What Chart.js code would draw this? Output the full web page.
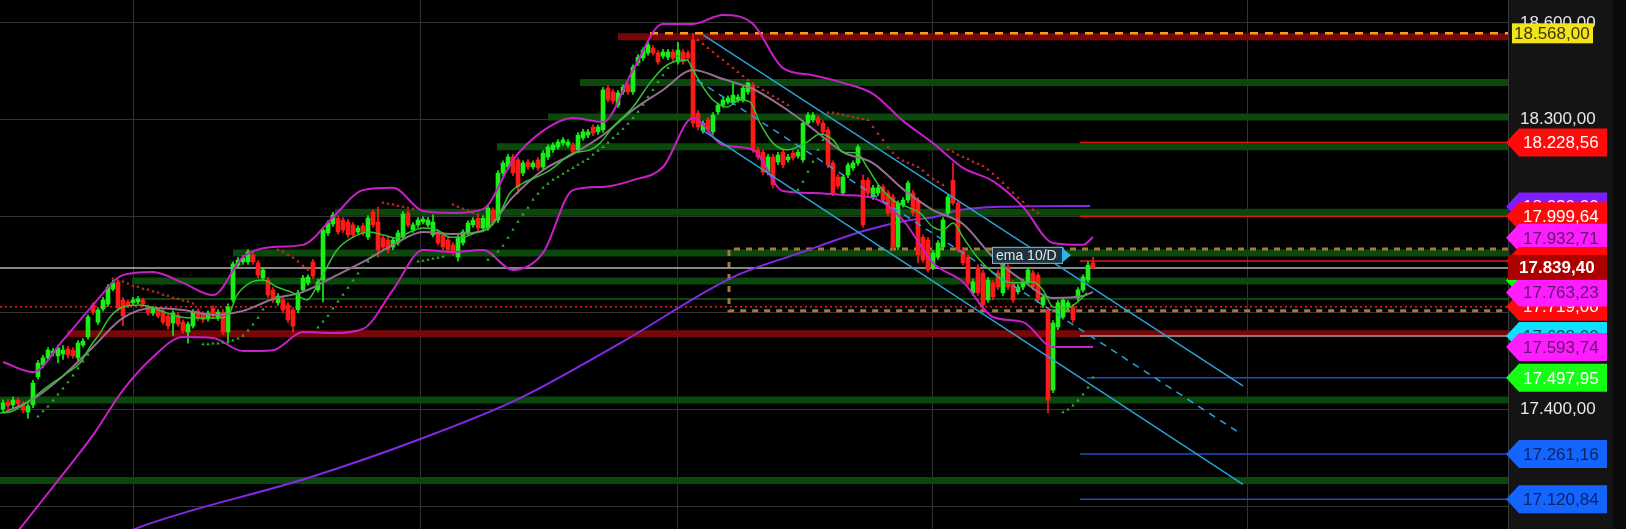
<!DOCTYPE html>
<html>
<head>
<meta charset="utf-8">
<script src="https://cdn.jsdelivr.net/npm/chart.js@4.4.1/dist/chart.umd.min.js"></script>
<style>
  html, body { margin: 0; padding: 0; background: #000; overflow: hidden; }
  canvas { display: block; }
</style>
</head>
<body>
<canvas id="chart" width="1626" height="529"></canvas>
<script>
// ---- candles (one per bar index) ----
const open = [
  17401,17423,17414,17429,17417,17392,17414,17501,17538,17560,
  17575,17566,17572,17588,17584,17560,17600,17625,17724,17671,
  17712,17727,17774,17796,17740,17734,17731,17734,17740,17718,
  17699,17709,17706,17690,17668,17693,17671,17640,17659,17706,
  17696,17681,17715,17684,17702,17640,17740,17848,17858,17858,
  17880,17855,17808,17802,17771,17731,17740,17724,17709,17709,
  17771,17793,17858,17771,17802,17948,17976,17994,17988,17982,
  17973,17951,17970,17935,18013,17982,17932,17926,17904,17917,
  17935,18010,17957,17973,17982,17973,17942,17951,17942,17926,
  17911,17873,17917,17948,17973,17994,17963,17963,18019,17988,
  18134,18153,18184,18175,18134,18168,18153,18175,18153,18184,
  18206,18215,18227,18221,18221,18206,18243,18252,18277,18262,
  18268,18398,18386,18345,18386,18407,18386,18476,18491,18507,
  18522,18507,18497,18494,18510,18479,18510,18507,18547,18320,
  18265,18299,18262,18324,18345,18355,18355,18361,18361,18386,
  18407,18206,18199,18137,18184,18168,18199,18175,18196,18187,
  18175,18289,18299,18305,18289,18268,18165,18122,18072,18128,
  18150,18165,18112,18112,18060,18072,18091,18072,18060,17904,
  18035,18050,18072,18050,17935,17926,17842,17873,17904,18010,
  18112,18041,17895,17873,17762,17842,17824,17740,17793,17824,
  17762,17842,17793,17765,17780,17793,17824,17817,17724,17709,
  17460,17656,17687,17718,17718,17746,17771,17802,17855
];
const close = [
  17420,17411,17429,17417,17398,17411,17482,17544,17560,17584,
  17581,17591,17584,17569,17566,17606,17612,17687,17702,17709,
  17740,17780,17793,17715,17690,17724,17740,17743,17727,17699,
  17712,17690,17671,17659,17699,17665,17644,17665,17702,17684,
  17678,17699,17690,17702,17640,17718,17852,17864,17870,17889,
  17858,17817,17833,17755,17740,17752,17709,17678,17659,17762,
  17808,17811,17814,17796,17957,17979,18004,17951,17957,17942,
  17942,17963,17948,17994,17973,17895,17904,17895,17926,17948,
  18007,17973,17973,17988,17991,17988,17982,17917,17904,17895,
  17886,17935,17951,17979,17988,17963,17994,18025,17979,18134,
  18165,18184,18134,18091,18165,18153,18165,18150,18196,18215,
  18221,18230,18237,18230,18199,18252,18262,18262,18258,18277,
  18392,18361,18358,18383,18401,18386,18463,18494,18516,18532,
  18507,18479,18510,18510,18491,18516,18479,18491,18289,18277,
  18289,18268,18314,18345,18361,18367,18376,18370,18398,18414,
  18206,18184,18137,18184,18097,18190,18159,18184,18181,18199,
  18289,18314,18314,18289,18262,18159,18072,18094,18122,18159,
  18165,18215,17973,18072,18088,18088,18050,18010,17904,18041,
  18050,18103,18010,17880,17864,17833,17886,17917,17988,18060,
  18041,17895,17855,17793,17796,17762,17724,17802,17749,17780,
  17855,17780,17740,17780,17796,17833,17780,17740,17749,17429,
  17668,17731,17740,17731,17678,17771,17811,17848,17839
];
const high = [
  17430,17432,17438,17436,17425,17418,17490,17552,17568,17592,
  17590,17600,17598,17596,17592,17614,17620,17694,17732,17716,
  17748,17788,17802,17802,17748,17740,17748,17750,17746,17724,
  17720,17716,17712,17696,17706,17700,17678,17672,17710,17712,
  17704,17706,17722,17710,17710,17728,17858,17872,17878,17896,
  17888,17862,17840,17810,17778,17760,17748,17732,17716,17770,
  17816,17818,17866,17804,17964,17986,18012,18002,17996,17990,
  17980,17970,17978,18002,18020,18028,17940,17934,17934,17956,
  18014,18018,17980,17996,17998,17996,18004,17958,17950,17934,
  17918,17942,17958,17986,17996,18002,18002,18032,18026,18142,
  18172,18192,18192,18182,18172,18176,18172,18182,18204,18222,
  18228,18238,18244,18238,18228,18260,18270,18270,18284,18284,
  18400,18406,18394,18390,18408,18414,18470,18502,18524,18540,
  18530,18514,18518,18518,18518,18540,18518,18514,18568,18328,
  18296,18306,18322,18352,18368,18374,18414,18378,18406,18416,
  18414,18214,18206,18192,18192,18198,18206,18192,18204,18206,
  18296,18322,18322,18312,18296,18276,18172,18130,18130,18166,
  18172,18222,18128,18120,18096,18096,18098,18080,18068,18048,
  18058,18110,18080,18058,17942,17934,17894,17924,17996,18068,
  18165,18048,17902,17880,17804,17850,17832,17810,17800,17832,
  17862,17850,17800,17788,17804,17840,17832,17824,17756,17716,
  17676,17738,17748,17738,17726,17778,17818,17858,17873
];
const low = [
  17392,17402,17405,17408,17390,17373,17405,17494,17530,17552,
  17566,17545,17555,17560,17558,17550,17594,17618,17695,17664,
  17705,17720,17768,17706,17660,17716,17724,17728,17720,17692,
  17692,17684,17664,17650,17630,17658,17636,17606,17652,17676,
  17670,17674,17682,17676,17632,17606,17732,17840,17850,17850,
  17850,17808,17800,17746,17732,17724,17700,17670,17640,17700,
  17764,17786,17806,17764,17734,17940,17968,17944,17950,17934,
  17934,17944,17940,17928,17966,17873,17896,17886,17896,17910,
  17928,17966,17950,17966,17976,17966,17936,17910,17896,17886,
  17878,17860,17910,17940,17966,17956,17956,17956,17972,17980,
  18126,18146,18126,18070,18126,18146,18146,18142,18146,18176,
  18198,18208,18220,18214,18192,18198,18236,18244,18250,18254,
  18260,18354,18350,18338,18378,18378,18378,18468,18484,18500,
  18500,18472,18490,18486,18484,18472,18472,18484,18277,18268,
  18258,18260,18254,18316,18338,18348,18348,18354,18354,18378,
  18198,18176,18128,18128,18088,18160,18150,18168,18174,18180,
  18168,18282,18292,18282,18254,18150,18064,18086,18064,18120,
  18142,18158,17966,18064,18052,18064,18042,18002,17896,17896,
  18028,18042,18002,17855,17856,17826,17834,17866,17896,18002,
  18034,17888,17848,17786,17754,17754,17709,17732,17740,17772,
  17754,17772,17732,17758,17772,17786,17772,17732,17716,17389,
  17452,17648,17680,17710,17670,17738,17764,17794,17836
];

// ---- parabolic SAR runs: first bar index of each run, then its values ----
const sarStart = [7, 22, 40, 55, 63, 76, 83, 90, 97, 139, 159, 165, 212];
const sarRuns = [
  [17378,17394,17409,17428,17446,17465,17484,17505,17527,17549,17570],
  [17806,17800,17797,17791,17784,17781,17775,17772,17766,17763,17756,17753,17747,17744,17738,17735,17729],
  [17602,17602,17605,17605,17608,17611,17614,17620,17629,17645,17664,17685,17710],
  [17896,17890,17880,17871,17859,17846,17834],
  [17654,17673,17691,17713,17735,17756,17778,17800,17822,17840,17859,17877],
  [18042,18039,18036,18032,18029,18026,18023],
  [17859,17862,17865,17868,17871,17874],
  [18036,18029,18023,18017,18011,18005],
  [17865,17877,17890,17908,17933,17958,17983,18005,18026,18051,18070,18088,18101,18113,18122,18132,18141,18150,18160,18169,
   18178,18191,18203,18215,18228,18243,18256,18271,18287,18305,18324,18346,18370,18392,18417,18438,18460,18479,18497],
  [18547,18535,18522,18510,18497,18485,18473,18460,18448,18435,18423,18411,18401,18392,18383,18373,18364,18355,18345],
  [18082,18107,18138,18169,18206,18237],
  [18321,18321,18318,18315,18311,18308,18305,18302,18299,18277,18256,18237,18215,18197,18181,18172,18166,18160,18153,18141,
   18128,18116,18107,18097,18206,18200,18191,18184,18178,18169,18163,18156,18144,18132,18119,18104,18088,18073,18057,18045,
   18032,18020,18011],
  [17391,17400,17412,17428,17446,17468,17499]
];

// ---- Bollinger bands (20) read at every 6th bar ----
const bandIdx = [0,6,12,18,24,30,36,42,48,54,60,66,72,78,84,90,96,102,108,114,
                 120,126,132,138,144,150,156,162,168,174,180,186,192,198,204,210,216,218];
const bbUpper = [17547,17516,17615,17724,17817,17827,17793,17755,17873,17904,17911,17997,18081,18088,18016,18010,18022,18175,18265,18305,
                 18293,18454,18597,18597,18625,18597,18460,18438,18414,18380,18296,18227,18150,18109,18029,17917,17911,17935];
const bbMiddle = [17389,17432,17504,17594,17684,17715,17709,17693,17706,17743,17765,17811,17858,17911,17951,17945,17954,18060,18143,18193,
                  18252,18330,18392,18454,18426,18395,18339,18271,18199,18165,18084,18019,17976,17873,17799,17746,17752,17765];
const bbLower = [16963,17081,17199,17320,17460,17563,17625,17622,17581,17584,17640,17637,17650,17771,17895,17889,17895,17833,17886,18081,
                 18091,18112,18153,18305,18221,18206,18078,18072,18066,18057,17988,17855,17796,17687,17671,17594,17594,17594];

// ---- EMA 10 ----
const emaIdx = [-0.6,1.4,5.4,8.8,12.8,15.4,17.4,19.4,21.4,24,27.4,30,32.8,35.4,38,42,44.8,46.8,49.4,52,
                54.8,58,60.8,63.4,66.8,70,73.4,76,78.8,81.4,84,86.8,89.4,92,94.8,97.4,99.4,101.4,104,106.8,
                109.4,114,117.4,119.4,122,126,129.4,132,134,136.8,138,140,142,144.8,147.4,149.4,151.4,154,156.8,160.8,
                163.4,166,168,170.8,172.8,175.4,178,180.8,183.4,186,188,190,192,194.8,198,200.8,203.4,206,208,210,
                212.8,215.4,216.8];
const emaVal = [17389,17392,17429,17470,17513,17544,17594,17637,17687,17718,17724,17715,17699,17687,17684,17684,17687,17755,17793,17802,
                17780,17762,17740,17802,17895,17935,17951,17942,17932,17951,17963,17957,17935,17935,17951,17966,18010,18072,18103,18122,
                18143,18196,18206,18227,18277,18339,18414,18460,18479,18485,18454,18401,18361,18339,18361,18355,18289,18227,18206,18230,
                18255,18237,18199,18196,18153,18091,18050,18029,18010,17966,17957,17979,17935,17873,17824,17796,17793,17796,17771,17718,
                17715,17740,17762];

// ---- long moving average (violet) ----
const maIdx = [19.4,26.4,61.6,82.4,103,123.8,146,159.4,172.8,181.4,186,191.4,199.4,217.4];
const maVal = [16979,17029,17190,17302,17432,17609,17811,17886,17957,17988,17997,18019,18029,18032];

// ---- descending channel: [startBar, startValue, endBar, endValue] ----
const chanUpper = [140, 18563, 248, 17473];
const chanMiddle = [138.8, 18423, 247, 17330];
const chanLower = [139.8, 18268, 248, 17167];

// ---- support / resistance zones ----
const zoneLevels = [18415, 18308, 18216, 18012, 17886, 17799, 17429, 17179];
const zoneFrom = [115.4, 109, 98.8, 66.4, 46, 25.8, -0.6, -0.6];
const redZoneLevels = [18557, 17635];
const redZoneFrom = [123, 12.8];
const thinZoneLevel = 17743, thinZoneFrom = 25.8;
const boxTop = 17898, boxBottom = 17706, boxFrom = 145.2;
const highMark = 18568, highMarkFrom = 129.4;
const pivotLevel = 17719;
const lastPrice = 17839.40;
const levelLines = [18228.56, 17999.64, 17861, 17628, 17497.95, 17261.16, 17120.84];
const levelFrom = [215.4, 215.4, 215.4, 215.4, 216.8, 215.4, 215.4];

// ---- price tags on the axis (drawn in this order) ----
const tagValues = [18030, 17999.64, 17932.71, 17861, 17800, 17628, 17719.00, 17763.23, 17593.74, 17497.95, 17261.16, 17120.84, 18228.56];
const tagKinds = ['violet','red','magenta','red','green','cyan','red','magenta','magenta','green','blue','blue','red'];

const dayBreaks = [26, 83.4, 135, 186, 249];
const X_MIN = -0.6, X_MAX = 301;
const Y_MIN = 17028.6, Y_MAX = 18671.4;

const TAG_STYLE = {
  red:     { bg: '#ff0a0a', ink: '#ffffff' },
  magenta: { bg: '#ff1cff', ink: '#5a1a6c' },
  violet:  { bg: '#7f1cff', ink: '#ffffff' },
  green:   { bg: '#14ff14', ink: '#ffffff' },
  cyan:    { bg: '#10e0ff', ink: '#0a3a4a' },
  blue:    { bg: '#1464ff', ink: '#0c2462' }
};
const UP = '#18f018', DOWN = '#ff1a1a';
const ZONE_GREEN = '#0b480b', ZONE_RED = '#780808';

function fmt(v) {
  const parts = v.toFixed(2).split('.');
  return parts[0].replace(/\B(?=(\d{3})+(?!\d))/g, '.') + ',' + parts[1];
}

function seg(x1, y1, x2, y2) { return [{ x: x1, y: y1 }, { x: x2, y: y2 }]; }
function lineDs(points, color, width, order, extra) {
  return Object.assign({
    type: 'line', data: points, borderColor: color, borderWidth: width,
    pointRadius: 0, tension: 0, fill: false, order: order
  }, extra || {});
}
function pairs(xs, ys) { return xs.map((x, i) => ({ x: x, y: ys[i] })); }

const candleColors = close.map((c, i) => c >= open[i] ? UP : DOWN);

const sarPoints = [];
sarRuns.forEach((run, r) => run.forEach((v, k) => sarPoints.push({ x: sarStart[r] + k, y: v })));
const sarColors = sarPoints.map(p => p.y > close[p.x] ? '#c42a2a' : '#34a834');

const datasets = [];
zoneLevels.forEach((lv, i) => datasets.push(lineDs(seg(zoneFrom[i], lv, X_MAX, lv), ZONE_GREEN, 7, 30)));
redZoneLevels.forEach((lv, i) => datasets.push(lineDs(seg(redZoneFrom[i], lv, X_MAX, lv), ZONE_RED, 7, 30)));
datasets.push(lineDs(seg(thinZoneFrom, thinZoneLevel, X_MAX, thinZoneLevel), ZONE_GREEN, 2, 29));
datasets.push(lineDs([
  { x: X_MAX, y: boxTop }, { x: boxFrom, y: boxTop }, { x: boxFrom, y: boxBottom }, { x: X_MAX, y: boxBottom }
], '#a47a3c', 3, 28, { borderDash: [6, 6] }));
datasets.push(lineDs(seg(highMarkFrom, highMark, X_MAX, highMark), '#ff9c10', 2.5, 27, { borderDash: [8, 7] }));
datasets.push(lineDs(seg(X_MIN, pivotLevel, X_MAX, pivotLevel), '#e02424', 1.5, 27, { borderDash: [2, 3] }));
datasets.push(lineDs(seg(X_MIN, lastPrice, X_MAX, lastPrice), '#b4b4b4', 1.5, 27));
const levelColors = ['#e01818', '#e01818', '#e01818', '#9a9a9a', '#1f4fc0', '#1f4fc0', '#1f4fc0'];
levelLines.forEach((lv, i) => datasets.push(lineDs(seg(levelFrom[i], lv, X_MAX, lv), levelColors[i], 1.5, 26)));

datasets.push(lineDs(pairs(maIdx, maVal), '#8429e6', 2, 24, { cubicInterpolationMode: 'monotone' }));

datasets.push({
  type: 'bar', data: low.map((l, i) => ({ x: i, y: [l, high[i]] })),
  backgroundColor: candleColors, barThickness: 1, grouped: false, order: 20
});
datasets.push({
  type: 'bar', data: open.map((o, i) => ({ x: i, y: [o, close[i]] })),
  backgroundColor: candleColors, barThickness: 4, minBarLength: 1, grouped: false, order: 19
});

datasets.push(lineDs(pairs(bandIdx, bbUpper), '#c81fc8', 2, 10, { cubicInterpolationMode: 'monotone' }));
datasets.push(lineDs(pairs(bandIdx, bbLower), '#c81fc8', 2, 10, { cubicInterpolationMode: 'monotone' }));
datasets.push(lineDs(pairs(bandIdx, bbMiddle), '#93708f', 2, 10, { cubicInterpolationMode: 'monotone' }));
datasets.push(lineDs(pairs(emaIdx, emaVal), '#2fc42f', 1.5, 9, { cubicInterpolationMode: 'monotone' }));

datasets.push({
  type: 'line', data: sarPoints, showLine: false, pointStyle: 'triangle', pointRadius: 2,
  pointBackgroundColor: sarColors, pointBorderWidth: 0, order: 8
});

[chanUpper, chanLower].forEach(c => datasets.push(lineDs(seg(c[0], c[1], c[2], c[3]), '#2aa0d6', 1.5, 7)));
datasets.push(lineDs(seg(chanMiddle[0], chanMiddle[1], chanMiddle[2], chanMiddle[3]), '#2aa0d6', 1.5, 7, { borderDash: [7, 6] }));

const FONT = '"Liberation Sans", Arial, sans-serif';

function drawTag(ctx, right, y, style, text, h) {
  const tip = right - 2, body = right + 11, end = right + 99;
  ctx.fillStyle = style.bg;
  ctx.beginPath();
  ctx.moveTo(tip, y);
  ctx.lineTo(body, y - h / 2);
  ctx.lineTo(end, y - h / 2);
  ctx.lineTo(end, y + h / 2);
  ctx.lineTo(body, y + h / 2);
  ctx.closePath();
  ctx.fill();
  ctx.fillStyle = style.ink;
  ctx.font = '17px ' + FONT;
  ctx.textAlign = 'left';
  ctx.textBaseline = 'middle';
  ctx.fillText(text, right + 15, y + 1);
}

const overlay = {
  id: 'overlay',
  beforeDraw(chart) {
    const { ctx, chartArea: a, width, height } = chart;
    ctx.save();
    ctx.fillStyle = '#000';
    ctx.fillRect(0, 0, width, height);
    ctx.fillStyle = '#141414';
    ctx.fillRect(a.right, 0, 105, height);
    ctx.fillStyle = '#0b0b0b';
    ctx.fillRect(a.right + 105, 0, width - a.right - 105, height);
    ctx.restore();
  },
  afterDatasetsDraw(chart) {
    const { ctx, scales: { x, y } } = chart;
    const bx = x.getPixelForValue(197.8), by = y.getPixelForValue(17880);
    ctx.save();
    ctx.fillStyle = '#1d3440';
    ctx.fillRect(bx, by - 8, 70, 17);
    ctx.strokeStyle = '#8fb4c4';
    ctx.lineWidth = 1;
    ctx.strokeRect(bx + 0.5, by - 7.5, 70, 16);
    ctx.fillStyle = '#2ab4e8';
    ctx.beginPath();
    ctx.moveTo(bx + 70, by - 7);
    ctx.lineTo(bx + 79, by + 0.5);
    ctx.lineTo(bx + 70, by + 8);
    ctx.closePath();
    ctx.fill();
    ctx.fillStyle = '#e6e6e6';
    ctx.font = '14px ' + FONT;
    ctx.textBaseline = 'middle';
    ctx.fillText('ema 10/D', bx + 4, by + 1);
    ctx.restore();
  },
  afterDraw(chart) {
    const { ctx, chartArea: a, scales: { y } } = chart;
    ctx.save();
    ctx.font = '17px ' + FONT;
    ctx.fillStyle = '#e8e8e8';
    ctx.textAlign = 'left';
    ctx.textBaseline = 'middle';
    y.ticks.forEach(t => ctx.fillText(fmt(t.value), a.right + 12, y.getPixelForValue(t.value)));

    tagValues.forEach((v, i) => {
      drawTag(ctx, a.right, y.getPixelForValue(v), TAG_STYLE[tagKinds[i]], fmt(v), 28);
      if (i === 7) {
        // last traded price box
        const py = y.getPixelForValue(lastPrice);
        ctx.fillStyle = '#ad0000';
        ctx.fillRect(a.right, py - 13, 99, 25);
        ctx.fillStyle = '#ffffff';
        ctx.font = 'bold 17px ' + FONT;
        ctx.fillText(fmt(lastPrice), a.right + 11, py);
      }
    });

    // session high marker
    const hy = y.getPixelForValue(highMark);
    ctx.fillStyle = '#f2e41c';
    ctx.fillRect(a.right + 4, hy - 10, 81, 20);
    ctx.fillStyle = '#3d3600';
    ctx.font = '17px ' + FONT;
    ctx.fillText(fmt(highMark), a.right + 6, hy + 1);
    ctx.restore();
  }
};

new Chart(document.getElementById('chart'), {
  type: 'bar',
  data: { datasets: datasets },
  options: {
    responsive: false,
    animation: false,
    devicePixelRatio: 1,
    events: [],
    layout: { padding: 0, autoPadding: false },
    plugins: { legend: { display: false }, tooltip: { enabled: false } },
    scales: {
      x: {
        type: 'linear', min: X_MIN, max: X_MAX, offset: false,
        afterBuildTicks: s => { s.ticks = dayBreaks.map(v => ({ value: v })); },
        afterFit: s => { s.height = 0; },
        ticks: { display: false },
        grid: { color: '#323232', lineWidth: 1, drawTicks: false, offset: false },
        border: { display: false }
      },
      y: {
        type: 'linear', position: 'right', min: Y_MIN, max: Y_MAX,
        afterFit: s => { s.width = 118; },
        ticks: { display: false, stepSize: 300, includeBounds: false },
        grid: { color: '#333333', lineWidth: 1, drawTicks: false },
        border: { display: true, color: '#3a3a3a' }
      }
    }
  },
  plugins: [overlay]
});
</script>
</body>
</html>
